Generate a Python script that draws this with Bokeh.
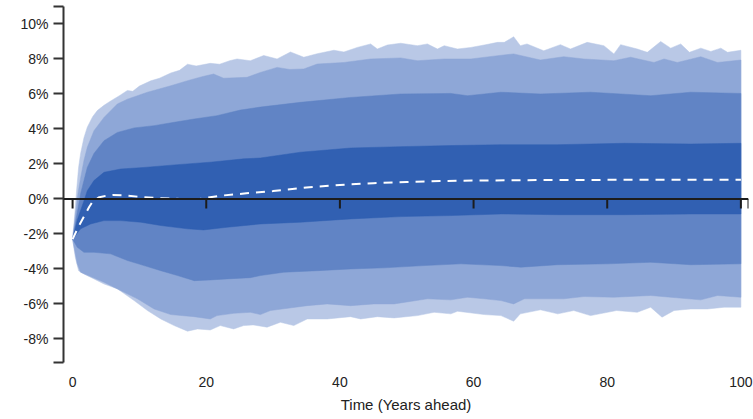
from bokeh.plotting import figure
from bokeh.models import Range1d, FixedTicker, CustomJSTickFormatter, Span
from bokeh.embed import file_html
from bokeh.resources import INLINE

# ---------------- data (percent, years ahead) ----------------
outer_hi_x = [0, 0.3, 0.6, 0.9, 1.2, 1.7, 2.2, 3, 3.7, 4.7, 5.7, 7, 8.2, 9, 10, 11.7, 13, 14.7, 16, 17.2,
              18.5, 20.6, 22, 23.5, 24.6, 26.6, 28.6, 30.6, 32.6, 34.6, 36.6, 39.1, 40.6, 42.6, 44.6, 45.6,
              47.1, 49.1, 51.6, 53.1, 54.6, 55.6, 57.6, 59.6, 61.6, 63.6, 64.6, 66, 67, 68, 70.5, 73, 74.5,
              77, 79.5, 81, 82, 84.5, 86, 88, 89.5, 91, 92.3, 94, 95.5, 97, 98, 100]
outer_hi_y = [-2.3, -1.0, 0.5, 1.8, 2.6, 3.5, 4.1, 4.7, 5.05, 5.35, 5.6, 5.9, 6.2, 6.15, 6.45, 6.75, 6.9, 7.2, 7.35, 7.7,
              7.6, 7.75, 7.7, 7.9, 8.0, 7.9, 8.2, 8.0, 8.4, 8.1, 8.3, 8.5, 8.4, 8.66, 8.86, 8.57,
              8.8, 8.9, 8.76, 8.86, 8.57, 8.76, 8.57, 8.66, 8.8, 8.95, 8.95, 9.27, 8.76, 8.86, 8.47, 8.82, 8.57,
              8.95, 8.76, 8.29, 8.82, 8.57, 8.38, 9.0, 8.62, 8.86, 8.38, 8.62, 8.43, 8.62, 8.38, 8.5]

mid_hi_x = [0, 0.4, 0.8, 1.2, 1.7, 2.2, 3.2, 4.7, 6.7, 8.2, 11.2, 14.7, 17.2, 19.5, 21.1, 22.6, 26.1, 28.1,
            30.6, 32.5, 34.6, 36.6, 40.6, 44.6, 49.1, 51.6, 55.6, 59.6, 63.6, 66, 70, 73.5, 76.5, 81, 83.5,
            87, 88.5, 90.5, 94, 96.5, 100]
mid_hi_y = [-2.3, -1.0, 0.3, 1.2, 2.2, 2.95, 3.9, 4.66, 5.43, 5.7, 6.1, 6.47, 6.76, 7.0, 7.14, 6.9, 6.95, 7.23,
            7.52, 7.4, 7.43, 7.71, 7.8, 8.0, 8.06, 7.9, 8.0, 8.0, 8.19, 8.29, 7.94, 8.13, 8.0, 7.9, 8.1,
            7.8, 8.0, 7.8, 8.13, 7.8, 7.94]

half_hi_x = [0, 0.5, 1.2, 2.2, 3.2, 4.7, 6.7, 9.2, 12.2, 15.2, 18.2, 21.6, 25.1, 28.1, 34.1, 41.6, 49.1,
             56.6, 59.1, 64.1, 70, 77.5, 86.5, 92.5, 100]
half_hi_y = [-2.3, -1.2, 0.3, 1.8, 2.6, 3.33, 3.8, 4.06, 4.19, 4.38, 4.57, 4.76, 5.08, 5.25, 5.52, 5.8, 6.0,
             6.03, 5.9, 6.1, 6.0, 6.1, 5.9, 6.1, 6.03]

inner_hi_x = [0, 0.7, 1.8, 2.2, 3.2, 4.7, 7.2, 10.7, 15.7, 20.6, 25.6, 28.1, 34.1, 41.6, 49.1, 56.6, 64.1,
              72.6, 82.6, 92.5, 100]
inner_hi_y = [-2.3, -1.2, 0.0, 0.47, 1.05, 1.52, 1.71, 1.8, 1.96, 2.1, 2.29, 2.34, 2.67, 2.91, 2.99, 3.05, 3.1,
              3.1, 3.18, 3.14, 3.18]

inner_lo_x = [0, 0.6, 1.2, 2.7, 4.7, 7.2, 10.2, 13.2, 17.2, 19.6, 23.1, 28.1, 34.1, 41.6, 49.1, 56.6, 64.1,
              72.6, 82.6, 92.5, 100]
inner_lo_y = [-2.3, -2.0, -1.71, -1.43, -1.24, -1.24, -1.33, -1.52, -1.71, -1.77, -1.62, -1.43, -1.33, -1.14,
              -1.01, -0.95, -0.86, -0.9, -0.9, -0.86, -0.86]

half_lo_x = [0, 0.7, 1.7, 3.2, 5.7, 8.2, 10.7, 13.2, 15.7, 18.2, 20.6, 23.1, 26.6, 28.1, 31.6, 36.6, 41.6,
             46.6, 52.6, 58.1, 64.1, 67.1, 72.6, 80, 86.5, 92.5, 100]
half_lo_y = [-2.3, -2.76, -3.05, -3.05, -3.14, -3.52, -3.81, -4.1, -4.38, -4.67, -4.63, -4.57, -4.5, -4.38,
             -4.19, -4.1, -4.0, -3.94, -3.81, -3.71, -3.81, -3.9, -3.76, -3.71, -3.62, -3.76, -3.71]

mid_lo_x = [0, 0.7, 1.2, 2.7, 4.7, 7.2, 9.7, 12.2, 14.7, 18.2, 20.6, 21.6, 24.1, 26.6, 28.1, 29.6, 35.1,
            38.1, 41.6, 45.1, 48.1, 53.1, 56.6, 59.1, 61.6, 64.1, 66, 67.6, 73.5, 76.5, 81, 86.5, 89.5,
            94, 96.5, 100]
mid_lo_y = [-2.3, -3.71, -4.19, -4.44, -4.76, -5.24, -5.71, -6.29, -6.61, -6.73, -6.86, -6.67, -6.54, -6.48,
            -6.61, -6.38, -6.1, -6.0, -6.1, -6.0, -6.0, -5.71, -5.77, -5.62, -5.71, -5.81, -6.0, -5.71,
            -5.71, -5.58, -5.62, -5.52, -5.62, -5.77, -5.52, -5.62]

outer_lo_x = [0, 0.4, 0.9, 1.7, 3.2, 4.7, 6.7, 9.2, 11.2, 13.2, 15.2, 17.2, 18.7, 20.6, 22.1, 24.1, 25.6,
              27, 29.1, 31.1, 33.1, 35.1, 38.1, 41.6, 43.1, 45.6, 48.1, 51.6, 54.1, 56.6, 57.6, 61.6, 64.1,
              66, 67, 70, 72.6, 75, 77.5, 81.4, 84.5, 86.5, 88.2, 90, 92.5, 95, 97.5, 100]
outer_lo_y = [-2.3, -3.33, -4.1, -4.29, -4.57, -4.86, -5.14, -5.81, -6.38, -6.86, -7.24, -7.56, -7.43, -7.49,
              -7.24, -7.43, -7.24, -7.2, -7.33, -7.05, -7.24, -6.86, -6.86, -6.73, -6.86, -6.73, -6.8, -6.67,
              -6.48, -6.57, -6.42, -6.61, -6.67, -6.99, -6.57, -6.34, -6.57, -6.38, -6.67, -6.38, -6.48,
              -6.19, -6.76, -6.38, -6.29, -6.29, -6.19, -6.19]

median_x = [0, 0.5, 1, 1.5, 2, 2.5, 3, 4, 5, 6, 8, 10, 13, 16, 19, 22, 26, 30, 35, 40, 45, 50, 55, 60, 70, 80, 100]
median_y = [-2.3, -1.9, -1.5, -1.15, -0.8, -0.45, -0.15, 0.1, 0.18, 0.22, 0.2, 0.12, 0.04, 0.0, 0.0, 0.18, 0.32,
            0.45, 0.65, 0.8, 0.9, 0.97, 1.02, 1.05, 1.08, 1.09, 1.09]

x_ticks = [0, 20, 40, 60, 80, 100]
y_ticks = [-8, -6, -4, -2, 0, 2, 4, 6, 8, 10]

band_colors = ["#b9c8e6", "#8ea7d7", "#6184c5", "#3160b2"]

# ---------------- figure ----------------
x_lo, x_hi = -1.36, 101.14
y_lo, y_hi = -9.35, 11.0

p = figure(width=753, height=419, output_backend="svg", toolbar_location=None,
           x_range=Range1d(x_lo, x_hi), y_range=Range1d(y_lo, y_hi),
           min_border_left=63, min_border_right=5, min_border_top=6, min_border_bottom=57)
p.outline_line_color = None
p.grid.visible = False
p.background_fill_color = "white"

bands = [(outer_hi_x, outer_hi_y, outer_lo_x, outer_lo_y),
         (mid_hi_x, mid_hi_y, mid_lo_x, mid_lo_y),
         (half_hi_x, half_hi_y, half_lo_x, half_lo_y),
         (inner_hi_x, inner_hi_y, inner_lo_x, inner_lo_y)]
for (hx, hy, lx, ly), c in zip(bands, band_colors):
    p.patch(hx + lx[::-1], hy + ly[::-1], fill_color=c, line_color=c, line_width=0.5)

p.line(median_x, median_y, line_color="white", line_width=2, line_dash="9 7")

# zero axis line with downward ticks
p.add_layout(Span(location=0, dimension="width", line_color="#1c1c1c", line_width=2))
tick_len = 0.55
end_ticks = x_ticks + [x_hi]
p.segment(x0=end_ticks, y0=[0] * len(end_ticks), x1=end_ticks, y1=[-tick_len] * len(end_ticks),
          line_color="#1c1c1c", line_width=2)

# y axis
p.yaxis.ticker = FixedTicker(ticks=[y_lo] + y_ticks + [y_hi])
p.yaxis.formatter = CustomJSTickFormatter(code="return (Math.abs(tick % 2) < 1e-9) ? tick + '%' : '';")
p.yaxis.axis_line_color = "#333333"
p.yaxis.axis_line_width = 2
p.yaxis.major_tick_line_color = "#333333"
p.yaxis.major_tick_line_width = 2
p.yaxis.major_tick_out = 10
p.yaxis.major_tick_in = 0
p.yaxis.minor_tick_line_color = None
p.yaxis.major_label_standoff = 5
p.yaxis.major_label_text_font = "Liberation Sans"
p.yaxis.major_label_text_font_size = "14px"
p.yaxis.major_label_text_color = "#222222"

# x axis (labels only at the bottom)
p.xaxis.ticker = FixedTicker(ticks=x_ticks)
p.xaxis.axis_line_color = None
p.xaxis.major_tick_line_color = None
p.xaxis.minor_tick_line_color = None
p.xaxis.major_tick_out = 0
p.xaxis.major_tick_in = 0
p.xaxis.major_label_standoff = 14
p.xaxis.major_label_text_font = "Liberation Sans"
p.xaxis.major_label_text_font_size = "14px"
p.xaxis.major_label_text_color = "#222222"
p.xaxis.axis_label = "Time (Years ahead)"
p.xaxis.axis_label_text_font = "Liberation Sans"
p.xaxis.axis_label_text_font_size = "15px"
p.xaxis.axis_label_text_font_style = "normal"
p.xaxis.axis_label_text_color = "#222222"
p.xaxis.axis_label_standoff = 6

open("out.html", "w").write(file_html(p, INLINE))
